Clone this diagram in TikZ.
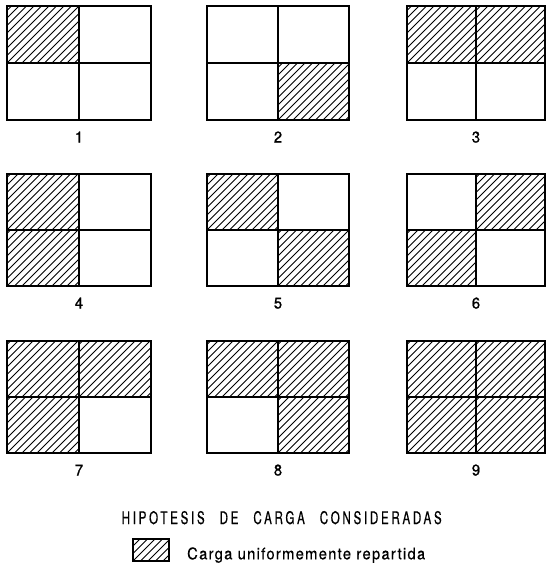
\documentclass[tikz,border=0pt]{standalone}
\usepackage{fontspec}
\setmainfont[FakeBold=0.6]{TeX Gyre Heros}
\newfontfamily\numfont[FakeBold=1.2,FakeStretch=0.95]{TeX Gyre Heros}
\newfontfamily\titlefont[LetterSpace=20,FakeStretch=0.85,FakeBold=0.5]{TeX Gyre Heros}
\newfontfamily\legendfont[LetterSpace=8,FakeStretch=0.92,FakeBold=0.5]{TeX Gyre Heros}
\usetikzlibrary{calc}
\tikzset{
  frame/.style={line width=2.4pt},
  divider/.style={line width=1.8pt},
  hatchline/.style={line width=0.85pt},
  numlabel/.style={font=\numfont\fontsize{15.5}{15.5}\selectfont, inner sep=0pt, anchor=base},
}
\newcommand\hatchcell[4]{%
  \begin{scope}
    \clip (#1,#2) rectangle (#3,#4);
    \foreach \t in {-75,-67.5,...,90} \draw[hatchline] (#1+\t,#4) -- ++(90,-90);
  \end{scope}}
\newcommand\panel[9]{%
  \pgfmathsetmacro\mx{(#1+#3)/2}%
  \pgfmathsetmacro\my{(#2+#4)/2}%
  \ifnum#5=1 \hatchcell{#1}{#2}{\mx}{\my}\fi
  \ifnum#6=1 \hatchcell{\mx}{#2}{#3}{\my}\fi
  \ifnum#7=1 \hatchcell{#1}{\my}{\mx}{#4}\fi
  \ifnum#8=1 \hatchcell{\mx}{\my}{#3}{#4}\fi
  \draw[divider] (\mx,#2) -- (\mx,#4) (#1,\my) -- (#3,\my);
  \draw[frame] (#1,#2) rectangle (#3,#4);
  \node[numlabel] (l#9) at (\mx,#4+22.5) {#9};
}
\begin{document}
\begin{tikzpicture}[x=1pt,y=-1pt]
\useasboundingbox (0,0) rectangle (546,565);
% row 1
\panel{7}{6}{151}{120}{1}{0}{0}{0}{1}
\panel{207}{6}{349}{120}{0}{0}{0}{1}{2}
\panel{407}{6}{545}{120}{1}{1}{0}{0}{3}
% row 2
\panel{7}{174}{151}{286}{1}{0}{1}{0}{4}
\panel{207}{174}{349}{286}{1}{0}{0}{1}{5}
\panel{407}{174}{545}{286}{0}{1}{1}{0}{6}
% row 3
\panel{7}{341}{151}{453}{1}{1}{1}{0}{7}
\panel{207}{341}{349}{453}{1}{1}{0}{1}{8}
\panel{407}{341}{545}{453}{1}{1}{1}{1}{9}
% title
\node[inner sep=0pt, anchor=base] (title) at (281.7,524)
  {\resizebox{320pt}{13pt}{\titlefont HIPOTESIS\hspace{1.1em}DE\hspace{1.1em}CARGA\hspace{1.1em}CONSIDERADAS}};
% legend
\hatchcell{133}{539}{169}{561}
\draw[frame] (133,539) rectangle (169,561);
\node[inner sep=0pt, anchor=base west] (legend) at (187,559.3)
  {\resizebox{238pt}{!}{\legendfont\fontsize{16}{16}\selectfont Carga uniformemente repartida}};
\end{tikzpicture}
\end{document}
